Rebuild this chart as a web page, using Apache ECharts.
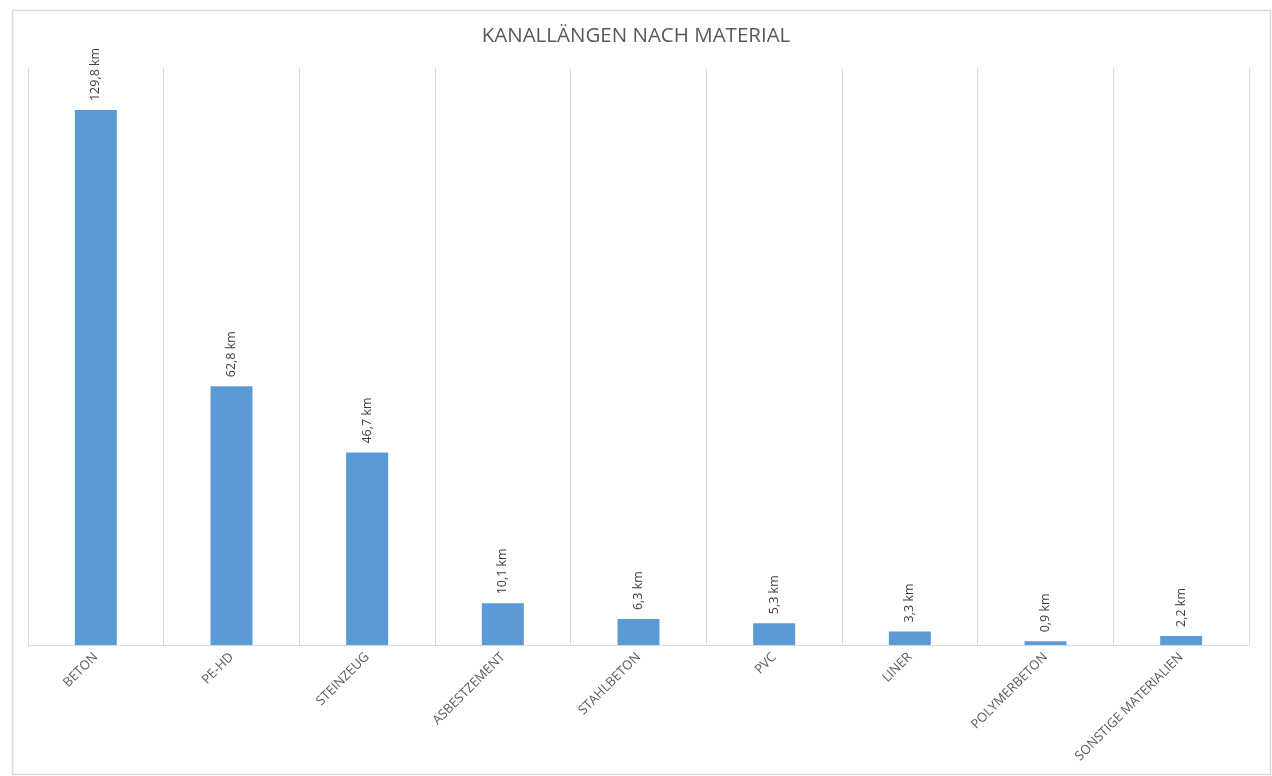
<!DOCTYPE html>
<html>
<head>
<meta charset="utf-8">
<script src="https://cdn.jsdelivr.net/npm/echarts@6/dist/echarts.min.js"></script>
<style>
html,body{margin:0;padding:0;background:#fff;}
#c{width:1272px;height:776px;}
</style>
</head>
<body>
<div id="c"></div>
<script>
const categories = ["BETON","PE-HD","STEINZEUG","ASBESTZEMENT","STAHLBETON","PVC","LINER","POLYMERBETON","SONSTIGE MATERIALIEN"];
const values = [129.8, 62.8, 46.7, 10.1, 6.3, 5.3, 3.3, 0.9, 2.2];
const titleText = "KANALLÄNGEN NACH MATERIAL";

const chart = echarts.init(document.getElementById('c'));
chart.setOption({
  animation: false,
  backgroundColor: '#fff',
  textStyle: { fontFamily: 'Open Sans' },
  graphic: [{
    type: 'rect', left: 10, top: 8, silent: true,
    shape: { width: 1258, height: 764 },
    style: { fill: 'none', stroke: '#d9d9d9', lineWidth: 1.5 }
  }],
  title: {
    text: titleText, left: 'center', top: 21,
    textStyle: { fontFamily: 'Open Sans', fontSize: 20.5, fontWeight: 'normal', color: '#595959' }
  },
  grid: { left: 28, right: 23, top: 68, bottom: 131, containLabel: false },
  xAxis: {
    type: 'category', data: categories, boundaryGap: true,
    axisLine: { show: true, lineStyle: { color: '#d9d9d9', width: 1 } },
    axisTick: { show: false },
    splitLine: { show: true, lineStyle: { color: '#d9d9d9', width: 1 } },
    axisLabel: {
      interval: 0, rotate: 45, margin: 10, color: '#595959',
      fontSize: 13, fontFamily: 'Open Sans'
    }
  },
  yAxis: {
    type: 'value', min: 0, max: 140, show: false, splitLine: { show: false }
  },
  series: [{
    type: 'bar', data: values, barWidth: 42,
    itemStyle: { color: '#5b9bd5' },
    label: {
      show: true, position: 'top', rotate: 90, distance: 9,
      align: 'left', verticalAlign: 'middle',
      color: '#404040', fontSize: 12.5, fontFamily: 'Open Sans',
      formatter: p => p.value.toFixed(1).replace('.', ',') + ' km'
    }
  }]
});
</script>
</body>
</html>
